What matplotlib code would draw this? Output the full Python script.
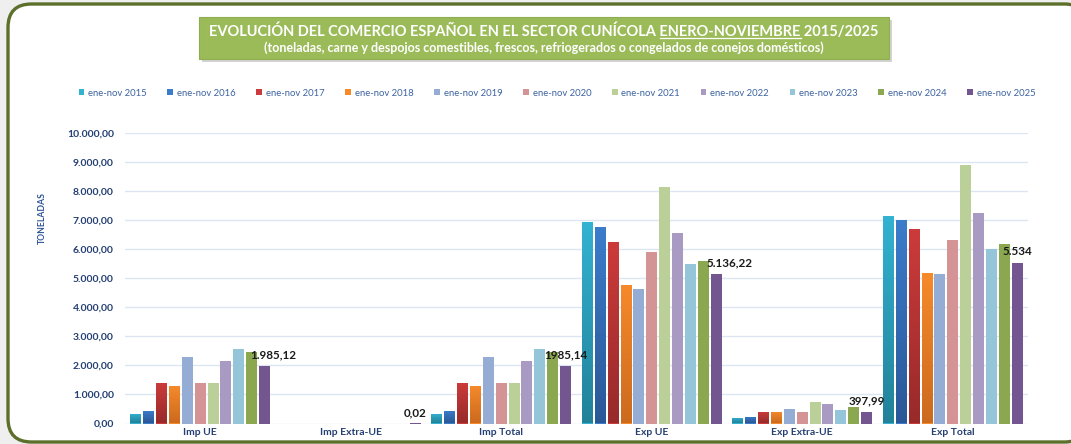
import numpy as np
import matplotlib
matplotlib.use("Agg")
import matplotlib.pyplot as plt
from matplotlib.patches import FancyBboxPatch, Rectangle
from matplotlib.ticker import FuncFormatter

plt.rcParams['font.family'] = ['Lato', 'DejaVu Sans']

# data (toneladas)
categories = ["Imp UE", "Imp Extra-UE", "Imp Total", "Exp UE", "Exp Extra-UE", "Exp Total"]
years = ["ene-nov %d" % y for y in range(2015, 2026)]

imp_ue = [320, 433, 1409, 1306, 2289, 1385, 1409, 2151, 2577, 2474, 1985.12]
imp_extra = [0, 0, 0, 0, 0, 0, 0, 0, 0, 0, 0.02]
imp_total = [320, 433, 1409, 1306, 2289, 1385, 1409, 2151, 2577, 2474, 1985.14]
exp_ue = [6950, 6756, 6254, 4753, 4639, 5911, 8131, 6564, 5474, 5588, 5136.22]
exp_extra = [192, 227, 412, 399, 502, 399, 742, 663, 481, 560, 397.99]
exp_total = [7148, 7010, 6687, 5175, 5155, 6333, 8911, 7237, 6014, 6172, 5534]

labels_2025 = ["1.985,12", "0,02", "1985,14", "5.136,22", "397,99", "5.534"]

colors = ["#33B2D2", "#3B7CCB", "#CC3B3B", "#F68A2B", "#95ACD4", "#D49394",
          "#BBCF98", "#A99AC3", "#94C5D8", "#8BA850", "#735590"]
dark = {0: "#22829A", 1: "#2A5897", 2: "#982A2A", 3: "#CC6A1E"}

data = np.array([imp_ue, imp_extra, imp_total, exp_ue, exp_extra, exp_total])

W, H = 1071, 444
fig = plt.figure(figsize=(W / 100, H / 100), dpi=100)
fig.patch.set_facecolor("#EFEFEF")

# outer frame
frame = FancyBboxPatch((8 / W, 2 / H), 1080 / W, 438 / H,
                       boxstyle="round,pad=0,rounding_size=0.022",
                       transform=fig.transFigure, facecolor="white",
                       edgecolor="#5C6F2B", linewidth=2.4, mutation_aspect=W / H, zorder=-10)
fig.patches.append(frame)

# title box
fig.patches.append(Rectangle((202 / W, 1 - 62 / H), 690 / W, 42 / H, transform=fig.transFigure,
                             facecolor="#B7B7B7", edgecolor="none", alpha=0.6, zorder=-5))
fig.patches.append(Rectangle((199 / W, 1 - 59 / H), 690 / W, 42 / H, transform=fig.transFigure,
                             facecolor="#9BBB59", edgecolor="#8EAD50", linewidth=0.8, zorder=-4))

t1 = "EVOLUCIÓN DEL COMERCIO ESPAÑOL EN EL SECTOR CUNÍCOLA "
t2 = "ENERO-NOVIEMBRE"
t3 = " 2015/2025"
title_kw = dict(fontsize=10.5, fontweight="bold", color="white")
full = fig.text(544 / W, 1 - 31 / H, t1 + t2 + t3, ha="center", va="center", **title_kw)
r = fig.canvas.get_renderer()
bb = full.get_window_extent(r)
tmp1 = fig.text(0, 0, t1.rstrip() + " ", **title_kw)
tmp2 = fig.text(0, 0, t1 + t2, **title_kw)
w1 = tmp1.get_window_extent(r).width
w12 = tmp2.get_window_extent(r).width
tmp1.remove()
tmp2.remove()
uy = (bb.y0 + 0.5) / H
fig.add_artist(plt.Line2D([(bb.x0 + w1) / W, (bb.x0 + w12) / W], [uy, uy],
                          transform=fig.transFigure, color="white", lw=0.9))
fig.text(544 / W, 1 - 48 / H,
         "(toneladas, carne y despojos comestibles, frescos, refriogerados o congelados de conejos domésticos)",
         ha="center", va="center", fontsize=9.0, fontweight="bold", color="white")

ax = fig.add_axes([125 / W, 20.5 / H, 903 / W, 290.5 / H])
ax.set_facecolor("none")

pitch = 0.0855
bw = 0.073
x = np.arange(len(categories))
handles = []
for j in range(11):
    xs = x + (j - 5) * pitch
    bars = ax.bar(xs, data[:, j], width=bw, color=colors[j], edgecolor="none", zorder=3)
    handles.append(bars)
    if j in dark:
        cmap = matplotlib.colors.LinearSegmentedColormap.from_list("g", [dark[j], colors[j]])
        grad = np.linspace(1, 0, 64).reshape(-1, 1)
        for b in bars:
            if b.get_height() <= 0:
                continue
            im = ax.imshow(grad, cmap=cmap, aspect="auto", zorder=3.5,
                           extent=[b.get_x(), b.get_x() + b.get_width(), 0, b.get_height()])
            im.set_clip_path(b)

# data labels of 2025
label_dx = [6, 0, 0, 10, 0, 0]
for i in range(len(categories)):
    xb = x[i] + 5 * pitch
    ax.annotate(labels_2025[i], (xb, data[i, 10]), xytext=(label_dx[i], 4),
                textcoords="offset points", ha="center", va="bottom",
                fontsize=8.4, fontweight="bold", color="#1A1A1A", zorder=5)

ax.set_xlim(-0.5, 5.5)
ax.set_ylim(0, 10000)
ax.set_yticks(np.arange(0, 10001, 1000))
ax.yaxis.set_major_formatter(FuncFormatter(
    lambda v, p: "{:,.2f}".format(v).replace(",", "X").replace(".", ",").replace("X", ".")))
ax.set_xticks(x)
ax.set_xticklabels(categories)
ax.grid(axis="y", color="#DCE6F2", lw=1.0, zorder=0)
for s in ax.spines.values():
    s.set_visible(False)
ax.tick_params(length=0, labelsize=7.5, labelcolor="#243F73", pad=8)
ax.tick_params(axis="x", pad=3)
for lab in ax.get_xticklabels() + ax.get_yticklabels():
    lab.set_fontweight("bold")

fig.text(42 / W, 1 - 218 / H, "TONELADAS", rotation=90, ha="center", va="center",
         fontsize=6.2, fontweight="bold", color="#2F5496")

leg = fig.legend(handles, years, loc="center", bbox_to_anchor=(557 / W, 1 - 93 / H),
                 ncol=11, frameon=False, fontsize=6.8, handlelength=0.6, handleheight=0.6,
                 handletextpad=0.4, columnspacing=2.2)
for t in leg.get_texts():
    t.set_color("#3C63A0")

fig.savefig("out.png", dpi=100, facecolor=fig.get_facecolor())
